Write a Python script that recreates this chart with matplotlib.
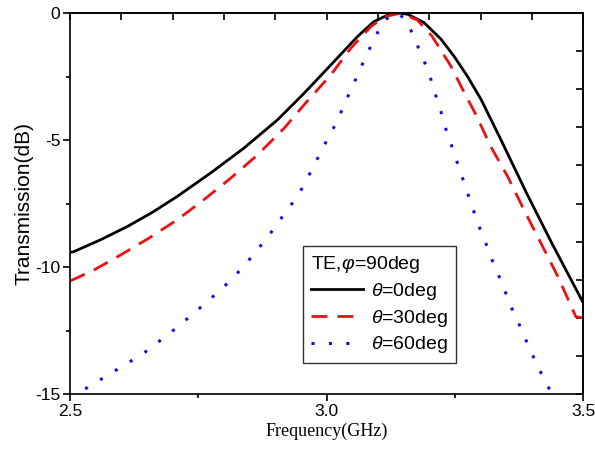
import numpy as np
import matplotlib
matplotlib.use("Agg")
import matplotlib.pyplot as plt

plt.rcParams['font.family'] = ['Liberation Sans', 'DejaVu Sans']
plt.rcParams['mathtext.fontset'] = 'custom'
plt.rcParams['mathtext.rm'] = 'Liberation Sans'
plt.rcParams['mathtext.it'] = 'Liberation Sans:italic'

# theta = 0 deg
f0 = [2.50, 2.5065, 2.56, 2.611, 2.66, 2.708, 2.773, 2.838, 2.904, 2.956, 3.014,
      3.060, 3.092, 3.122, 3.14, 3.158, 3.190, 3.223, 3.249, 3.275, 3.301, 3.34,
      3.39, 3.44, 3.50]
t0 = [-9.42, -9.40, -8.92, -8.41, -7.85, -7.23, -6.31, -5.33, -4.21, -3.16, -1.92,
      -0.93, -0.34, -0.05, 0.0, -0.05, -0.38, -1.03, -1.72, -2.51, -3.40, -5.0,
      -7.1, -9.1, -11.4]

# theta = 30 deg
f30 = [2.50, 2.546, 2.598, 2.653, 2.708, 2.760, 2.8125, 2.865, 2.917, 2.960,
       3.008, 3.047, 3.086, 3.112, 3.145, 3.177, 3.205, 3.242, 3.270, 3.291,
       3.320, 3.353, 3.385, 3.418, 3.451, 3.480, 3.486, 3.50]
t30 = [-10.55, -10.12, -9.53, -8.87, -8.15, -7.36, -6.51, -5.59, -4.54, -3.52,
       -2.44, -1.39, -0.54, -0.15, 0.0, -0.28, -0.90, -2.08, -3.20, -4.00,
       -5.26, -6.44, -7.76, -9.07, -10.38, -11.69, -11.96, -12.0]

# theta = 60 deg
f60 = [2.50, 2.516, 2.578, 2.643, 2.707, 2.771, 2.803, 2.835, 2.861, 2.887,
       2.910, 2.933, 2.954, 3.004, 3.020, 3.034, 3.048, 3.062, 3.076, 3.092,
       3.109, 3.125, 3.138, 3.150, 3.164, 3.178, 3.191, 3.203, 3.213, 3.223,
       3.232, 3.242, 3.253, 3.264, 3.275, 3.286, 3.297, 3.310, 3.322, 3.335,
       3.348, 3.361, 3.375, 3.389, 3.41, 3.434, 3.45]
t60 = [-15.15, -14.96, -14.2, -13.4, -12.4, -11.3, -10.71, -10.05, -9.42, -8.77,
       -8.12, -7.49, -6.84, -4.87, -4.28, -3.62, -2.99, -2.37, -1.72, -1.06,
       -0.39, -0.08, 0.0, -0.2, -0.67, -1.33, -1.94, -2.60, -3.26, -3.89,
       -4.54, -5.13, -5.79, -6.44, -7.10, -7.76, -8.39, -9.04, -9.70, -10.31,
       -10.97, -11.63, -12.24, -12.9, -13.85, -14.8, -15.4]

labels = [r"$\theta$=0deg", r"$\theta$=30deg", r"$\theta$=60deg"]
legend_title = r"TE,$\varphi$=90deg"
xticks = [2.5, 3.0, 3.5]
xticklabels = ["2.5", "3.0", "3.5"]
yticks = [0, -5, -10, -15]
yticklabels = ["0", "-5", "-10", "-15"]

fig = plt.figure(figsize=(5.95, 4.5), dpi=100)
ax = fig.add_axes([0.118, 0.1244, 0.862, 0.8467])

ax.plot(f0, t0, color='black', lw=2.0, label=labels[0])
ax.plot(f30, t30, color='#ee1111', lw=2.0, dashes=(5.75, 3.6), label=labels[1])
ax.plot(f60, t60, color='#1111dd', lw=2.2, dashes=(1, 4.7), label=labels[2])

ax.set_xlim(2.5, 3.5)
ax.set_ylim(-15, 0)
ax.set_xticks(xticks)
ax.set_xticklabels(xticklabels)
ax.set_yticks(yticks)
ax.set_yticklabels(yticklabels)
ax.set_xticks([2.75, 3.25], minor=True)
ax.set_yticks([-2.5, -7.5, -12.5], minor=True)
ax.tick_params(axis='both', which='major', direction='out', length=5, width=1.2,
               labelsize=12.5, pad=2)
ax.tick_params(axis='both', which='minor', direction='out', length=3, width=1.2)

for s in ax.spines.values():
    s.set_linewidth(1.2)

secx = ax.secondary_xaxis('top')
secx.set_xticks(np.round(np.arange(2.5, 3.51, 0.1), 2))
secx.tick_params(direction='in', length=5, width=1.2, labeltop=False)
secx.spines['top'].set_linewidth(1.2)
secy = ax.secondary_yaxis('right')
secy.set_yticks(np.round(np.arange(-15, 0.01, 1.5), 2))
secy.tick_params(direction='in', length=5, width=1.2, labelright=False)
secy.spines['right'].set_linewidth(1.2)

ax.set_xlabel("Frequency(GHz)", family='Liberation Serif', fontsize=13, labelpad=3)
ax.set_ylabel("Transmission(dB)", fontsize=15, labelpad=1)

leg = ax.legend(title=legend_title, loc='lower left', bbox_to_anchor=(0.454, 0.081),
                borderaxespad=0, fontsize=14, title_fontsize=14, frameon=True,
                fancybox=False, edgecolor='black', handlelength=2.7,
                handletextpad=0.4, labelspacing=0.3, borderpad=0.4)
leg._legend_box.align = 'left'
leg.get_frame().set_linewidth(1.0)

fig.savefig("out.png", dpi=100)
